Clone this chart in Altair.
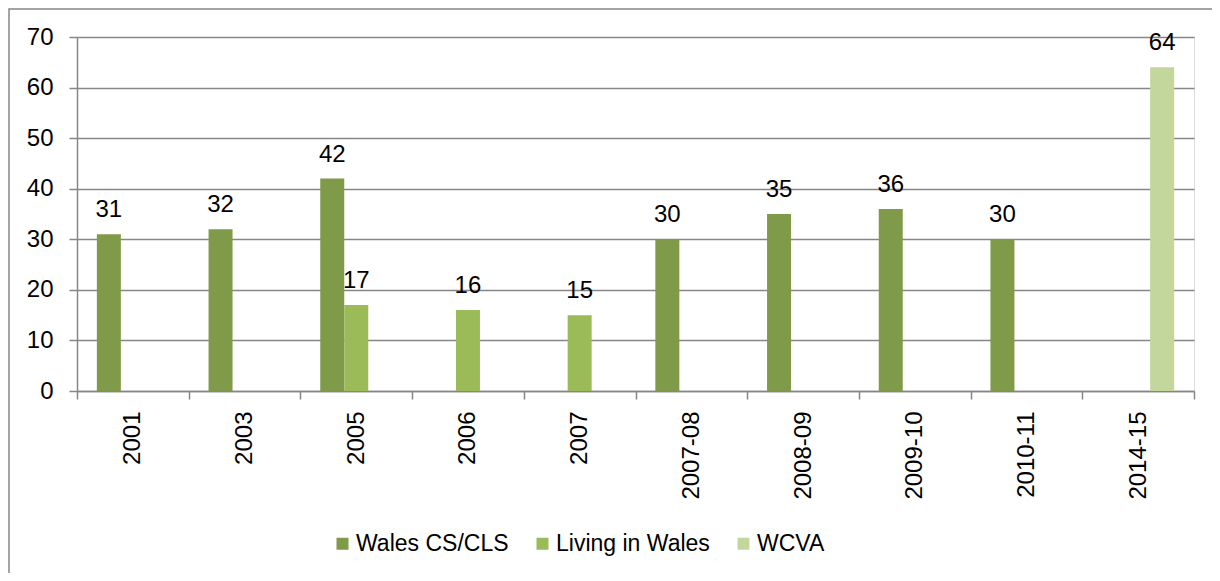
import altair as alt
import pandas as pd

categories = ["2001", "2003", "2005", "2006", "2007", "2007-08", "2008-09", "2009-10", "2010-11", "2014-15"]
series_names = ["Wales CS/CLS", "Living in Wales", "WCVA"]
wales_cs = [31, 32, 42, None, None, 30, 35, 36, 30, None]
living_in_wales = [None, None, 17, 16, 15, None, None, None, None, None]
wcva = [None, None, None, None, None, None, None, None, None, 64]
colors = ["#7F9A48", "#9BBB59", "#C3D69B"]
y_ticks = [0, 10, 20, 30, 40, 50, 60, 70]

rows = []
for s, vals in zip(series_names, [wales_cs, living_in_wales, wcva]):
    for c, v in zip(categories, vals):
        if v is not None:
            rows.append({"category": c, "series": s, "value": v})
df = pd.DataFrame(rows)

W = 1117
H = 354
GRAY = "#868686"
FONT = "Liberation Sans"

x = alt.X(
    "category:N",
    sort=categories,
    scale=alt.Scale(domain=categories, paddingInner=0, paddingOuter=0),
    axis=alt.Axis(
        title=None, labelAngle=270, labelFontSize=24, labelColor="black", labelFont=FONT,
        tickBand="extent", tickSize=8, tickColor=GRAY, tickWidth=1.5,
        domainColor=GRAY, domainWidth=1.5, labelPadding=12, grid=False,
    ),
)
xo = alt.XOffset("series:N", sort=series_names,
                 scale=alt.Scale(domain=series_names, paddingInner=0, paddingOuter=0.827))
y = alt.Y(
    "value:Q",
    scale=alt.Scale(domain=[0, 70], nice=False),
    axis=alt.Axis(
        values=y_ticks, title=None, labelFontSize=24, labelColor="black", labelFont=FONT,
        tickSize=8, tickColor=GRAY, tickWidth=1.5, domainColor=GRAY, domainWidth=1.5,
        gridColor=GRAY, gridWidth=1.5, labelPadding=16,
    ),
)
color = alt.Color(
    "series:N",
    sort=series_names,
    scale=alt.Scale(domain=series_names, range=colors),
    legend=alt.Legend(
        title=None, orient="none", legendX=254, legendY=495, direction="horizontal",
        symbolType="square", symbolSize=144, symbolStrokeWidth=0, symbolOpacity=1,
        labelFontSize=23, labelFont=FONT, labelColor="black", labelLimit=400,
        columnPadding=22, labelOffset=2,
    ),
)

border = alt.Chart(alt.Data(values=[{}])).mark_rect(
    fill="transparent", stroke=GRAY, strokeWidth=1.5
).encode(
    x=alt.value(-68), x2=alt.value(W + 60), y=alt.value(-28), y2=alt.value(H + 300)
)

bars = alt.Chart(df).mark_bar().encode(x=x, xOffset=xo, y=y, color=color)

labels = alt.Chart(df).mark_text(
    dy=-17, baseline="alphabetic", fontSize=24, font=FONT, color="black"
).encode(x=x, xOffset=xo, y=y, text=alt.Text("value:Q"))

chart = alt.layer(border, bars, labels).properties(
    width=W, height=H,
    padding={"left": 69, "top": 29, "right": 18, "bottom": 182},
    autosize=alt.AutoSizeParams(type="none"),
).configure_view(strokeWidth=0).configure(background="white")

chart.save("out.html", embed_options={"renderer": "svg", "actions": False})
